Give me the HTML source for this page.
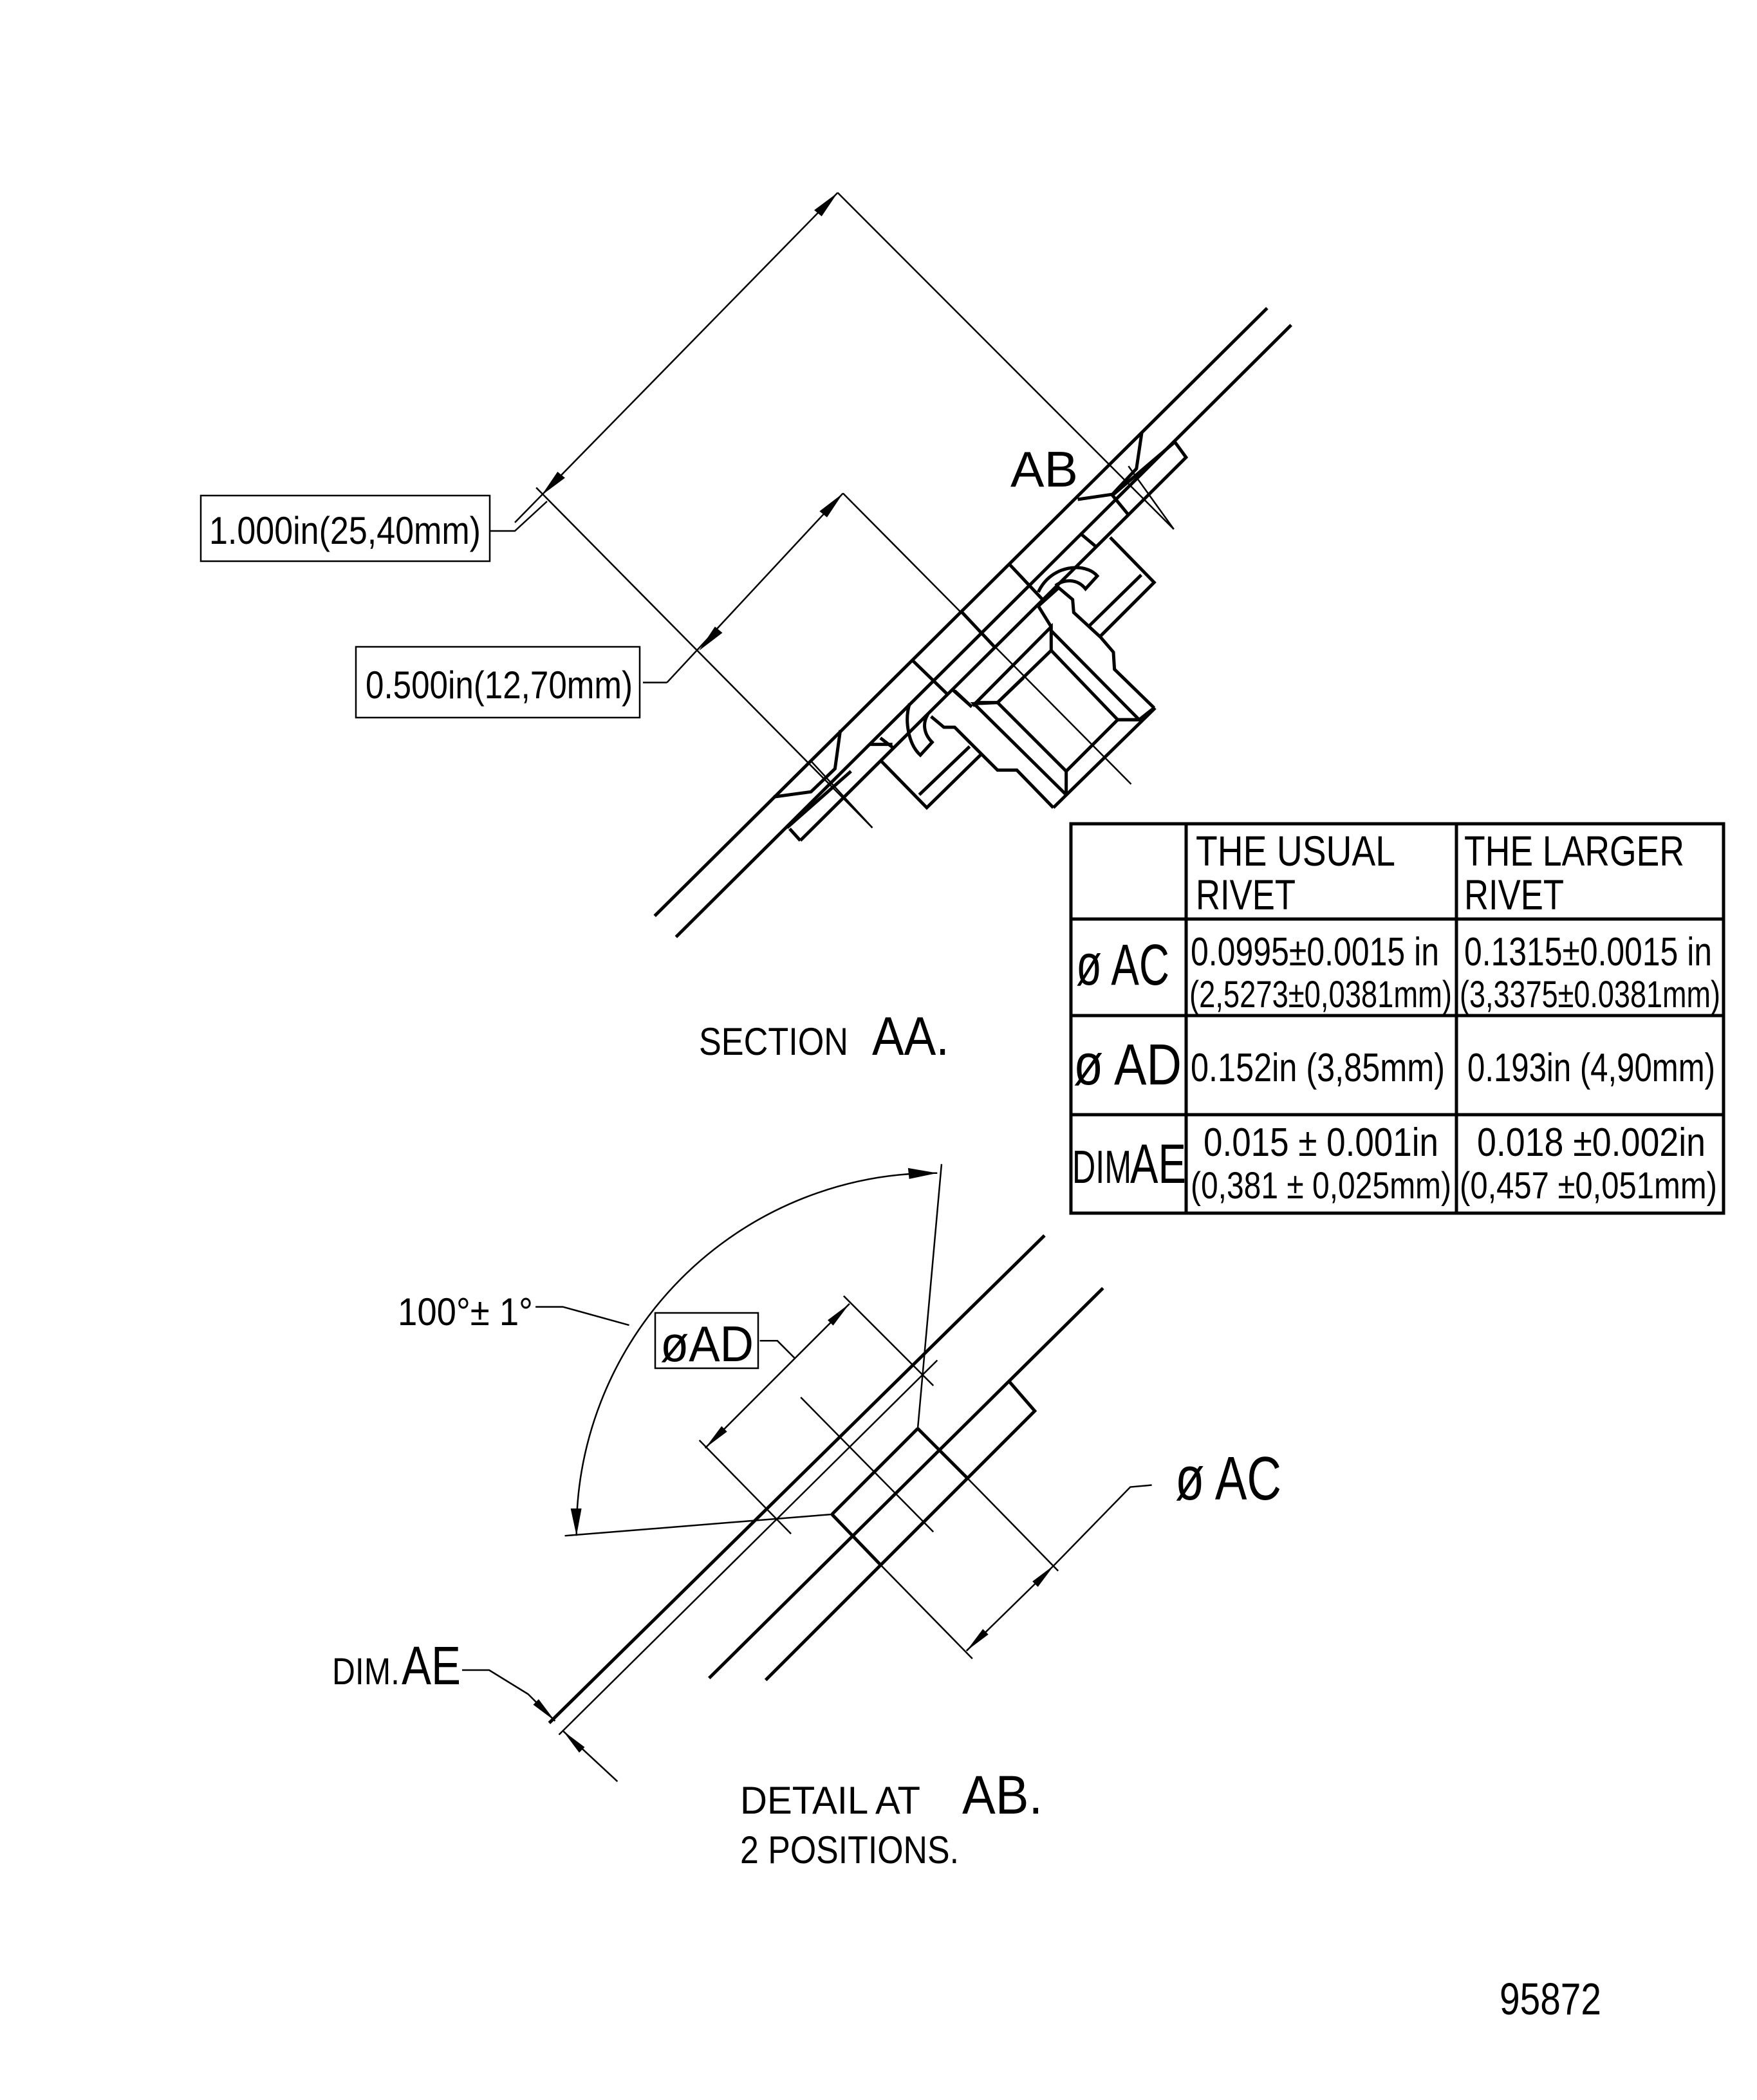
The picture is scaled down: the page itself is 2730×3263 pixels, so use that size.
<!DOCTYPE html>
<html><head><meta charset="utf-8"><style>
html,body{margin:0;padding:0;background:#fff;}
svg{display:block;}
text{font-family:"Liberation Sans Narrow","Liberation Sans",sans-serif;fill:#000;}
.t{stroke:#000;stroke-width:2.5;fill:none;vector-effect:non-scaling-stroke;}
.k{stroke:#000;stroke-width:5;fill:none;vector-effect:non-scaling-stroke;}
.a{fill:#000;stroke:none;}
</style></head><body>
<svg width="2730" height="3263" viewBox="0 0 2730 3263" xmlns="http://www.w3.org/2000/svg">
<!-- SECTION AA geometry in zoom1 coords -->
<g transform="translate(800,250) scale(0.829,0.797)">
  <line class="k" x1="262" y1="1472" x2="1410" y2="287"/>
  <line class="k" x1="302" y1="1513" x2="1455" y2="320"/>
  <line class="t" x1="0" y1="705" x2="605" y2="62"/>
  <line class="t" x1="605" y1="62" x2="1235" y2="718"/>
  <line class="t" x1="40" y1="637" x2="670" y2="1300"/>
  <polygon class="a" points="605,62 575,108 561,96"/>
  <polygon class="a" points="50,652 94,618 80,606"/>
  <line class="t" x1="285" y1="1017" x2="615" y2="648"/>
  <line class="t" x1="615" y1="648" x2="1155" y2="1215"/>
  <polygon class="a" points="615,648 585,695 571,683"/>
  <polygon class="a" points="345,955 389,920 375,908"/>
  <polyline class="t" points="240,1017 285,1017"/>
  <polyline class="k" points="1055,660 1120,650 1165,600 1175,530"/>
  <polygon class="k" points="1120,652 1237,548 1258,578 1150,690"/>
  <line class="t" x1="1150" y1="595" x2="1235" y2="718"/>
  <line class="k" x1="535" y1="1325" x2="1150" y2="690"/>
  <polyline class="k" points="515,1302 535,1325"/>
  <line class="k" x1="685" y1="1125" x2="710" y2="1145"/>
  <polyline class="k" points="485,1240 555,1230 600,1185 610,1110"/>
  <line class="t" x1="555" y1="1170" x2="670" y2="1300"/>
  <line class="k" x1="510" y1="1300" x2="630" y2="1190"/>
</g>
<!-- rivet region upper -->
<g transform="translate(1400,750) scale(0.3333)">
  <line class="k" x1="840" y1="240" x2="905" y2="295"/>
  <line class="k" x1="505" y1="380" x2="660" y2="545"/>
  <line class="k" x1="285" y1="605" x2="440" y2="770"/>
  <line class="k" x1="55" y1="830" x2="215" y2="985"/>
  <line class="k" x1="240" y1="965" x2="330" y2="1045"/>
  <polyline class="k" points="975,255 1180,465 930,715"/>
  <line class="k" x1="880" y1="665" x2="1120" y2="430"/>
  <path class="k" d="M640,510 C700,380 860,370 915,435 L860,495 C820,445 760,450 720,480"/>
  <polyline class="k" points="640,575 735,490 800,545 805,605 930,720 990,790 995,870 1180,1050"/>
  <polyline class="k" points="335,1040 700,672 700,782 450,1025 360,1025 335,1040"/>
  <line class="k" x1="700" y1="690" x2="1110" y2="1105"/>
  <line class="k" x1="700" y1="782" x2="1010" y2="1105"/>
  <polyline class="k" points="1010,1105 1110,1105 1180,1050"/>
  <line class="k" x1="640" y1="575" x2="700" y2="672"/>
</g>
<!-- rivet region lower -->
<g transform="translate(1350,1050) scale(0.3333)">
  <line class="k" x1="1335" y1="150" x2="860" y2="615"/>
  <polyline class="k" points="1260,205 1160,205 920,445 920,550"/>
  <polyline class="k" points="920,445 600,125 490,130 915,550"/>
  <line class="k" x1="600" y1="125" x2="720" y2="10"/>
  <polyline class="k" points="290,190 350,240 400,240 600,440 690,440 860,615"/>
  <polyline class="k" points="60,400 270,615 520,370"/>
  <line class="k" x1="235" y1="555" x2="470" y2="330"/>
  <line class="k" x1="0" y1="320" x2="110" y2="320"/>
  <path class="k" d="M190,130 C165,210 185,320 240,370 L295,310 C255,270 250,220 275,180"/>
  <line class="k" x1="400" y1="70" x2="480" y2="145"/>
</g>
<!-- label boxes -->
<rect class="t" x="312" y="770" width="449" height="102"/>
<text x="325" y="845" font-size="60" textLength="422" lengthAdjust="spacingAndGlyphs">1.000in(25,40mm)</text>
<polyline class="t" points="761,825 800,825 850,779"/>
<rect class="t" x="553" y="1005" width="441" height="110"/>
<text x="568" y="1085" font-size="60" textLength="415" lengthAdjust="spacingAndGlyphs">0.500in(12,70mm)</text>
<text x="1570" y="756" font-size="78" textLength="105" lengthAdjust="spacingAndGlyphs">AB</text>
<text x="1086" y="1639" font-size="60" textLength="232" lengthAdjust="spacingAndGlyphs">SECTION</text>
<text x="1355" y="1639" font-size="84" textLength="120" lengthAdjust="spacingAndGlyphs">AA.</text>

<!-- table -->
<g>
  <rect class="k" x="1664" y="1280" width="1014" height="605"/>
  <line class="k" x1="1843" y1="1280" x2="1843" y2="1885"/>
  <line class="k" x1="2263" y1="1280" x2="2263" y2="1885"/>
  <line class="k" x1="1664" y1="1428" x2="2678" y2="1428"/>
  <line class="k" x1="1664" y1="1578" x2="2678" y2="1578"/>
  <line class="k" x1="1664" y1="1732" x2="2678" y2="1732"/>
  <text x="1858" y="1345" font-size="66" textLength="310" lengthAdjust="spacingAndGlyphs">THE  USUAL</text>
  <text x="1858" y="1413" font-size="66" textLength="155" lengthAdjust="spacingAndGlyphs">RIVET</text>
  <text x="2275" y="1345" font-size="66" textLength="342" lengthAdjust="spacingAndGlyphs">THE  LARGER</text>
  <text x="2275" y="1413" font-size="66" textLength="155" lengthAdjust="spacingAndGlyphs">RIVET</text>
  <text x="1672" y="1530" font-size="90" textLength="145" lengthAdjust="spacingAndGlyphs">ø AC</text>
  <text x="1850" y="1500" font-size="62" textLength="386" lengthAdjust="spacingAndGlyphs">0.0995±0.0015 in</text>
  <text x="1848" y="1565" font-size="58" textLength="408" lengthAdjust="spacingAndGlyphs">(2,5273±0,0381mm)</text>
  <text x="2275" y="1500" font-size="62" textLength="385" lengthAdjust="spacingAndGlyphs">0.1315±0.0015 in</text>
  <text x="2268" y="1565" font-size="58" textLength="405" lengthAdjust="spacingAndGlyphs">(3,3375±0.0381mm)</text>
  <text x="1668" y="1685" font-size="90" textLength="168" lengthAdjust="spacingAndGlyphs">ø AD</text>
  <text x="1850" y="1680" font-size="62" textLength="395" lengthAdjust="spacingAndGlyphs">0.152in  (3,85mm)</text>
  <text x="2280" y="1680" font-size="62" textLength="385" lengthAdjust="spacingAndGlyphs">0.193in (4,90mm)</text>
  <text x="1666" y="1838" font-size="72" textLength="92" lengthAdjust="spacingAndGlyphs">DIM</text>
  <text x="1756" y="1838" font-size="86" textLength="87" lengthAdjust="spacingAndGlyphs">AE</text>
  <text x="1870" y="1796" font-size="62" textLength="365" lengthAdjust="spacingAndGlyphs">0.015 ± 0.001in</text>
  <text x="1850" y="1862" font-size="58" textLength="405" lengthAdjust="spacingAndGlyphs">(0,381 ± 0,025mm)</text>
  <text x="2295" y="1796" font-size="62" textLength="355" lengthAdjust="spacingAndGlyphs">0.018 ±0.002in</text>
  <text x="2268" y="1862" font-size="58" textLength="400" lengthAdjust="spacingAndGlyphs">(0,457 ±0,051mm)</text>
</g>

<!-- DETAIL AT AB geometry -->
<g transform="translate(820,1850) scale(0.606)">
  <path class="t" d="M125,885 A920,920 0 0 1 1050,-45"/>
  <polyline class="t" points="20,298 90,298 260,345"/>
  <line class="t" x1="95" y1="885" x2="780" y2="830"/>
  <line class="t" x1="1000" y1="610" x2="1061" y2="-68"/>
  <line class="k" x1="55" y1="1365" x2="1325" y2="115"/>
  <line class="t" x1="80" y1="1395" x2="1050" y2="435"/>
  <line class="k" x1="465" y1="1250" x2="1475" y2="250"/>
  <polyline class="k" points="1235,490 1300,565 610,1255"/>
  <line class="k" x1="780" y1="830" x2="1000" y2="610"/>
  <line class="k" x1="1000" y1="610" x2="1130" y2="740"/>
  <line class="t" x1="1130" y1="740" x2="1360" y2="975"/>
  <line class="k" x1="780" y1="830" x2="905" y2="960"/>
  <line class="t" x1="905" y1="960" x2="1140" y2="1200"/>
  <line class="t" x1="810" y1="270" x2="1040" y2="500"/>
  <line class="t" x1="440" y1="640" x2="675" y2="880"/>
  <line class="t" x1="700" y1="530" x2="1040" y2="875"/>
  <line class="t" x1="455" y1="660" x2="825" y2="290"/>
  <polyline class="t" points="595,385 640,385 685,430"/>
  <line class="t" x1="1125" y1="1180" x2="1350" y2="960"/>
  <polyline class="t" points="1350,960 1545,760 1600,755"/>
  <line class="t" x1="0" y1="1290" x2="70" y2="1360"/>
  <line class="t" x1="90" y1="1385" x2="230" y2="1515"/>
  <polygon class="a" points="825,290 783,346 769,332"/>
  <polygon class="a" points="455,660 511,618 497,604"/>
  <polygon class="a" points="1350,960 1308,1016 1294,1002"/>
  <polygon class="a" points="1125,1180 1181,1138 1167,1124"/>
  <polygon class="a" points="70,1360 28,1304 14,1318"/>
  <polygon class="a" points="90,1385 146,1427 132,1441"/>
  <polygon class="a" points="125,885 110,815 138,815"/>
  <polygon class="a" points="1050,-45 975,-58 978,-30"/>
</g>
<text x="618" y="2059" font-size="60" textLength="210" lengthAdjust="spacingAndGlyphs">100°± 1°</text>
<rect class="t" x="1018" y="2040" width="160" height="86"/>
<text x="1026" y="2115" font-size="78" textLength="145" lengthAdjust="spacingAndGlyphs">øAD</text>
<text x="1826" y="2330" font-size="96" textLength="165" lengthAdjust="spacingAndGlyphs">ø AC</text>
<text x="516" y="2617" font-size="58" textLength="105" lengthAdjust="spacingAndGlyphs">DIM.</text>
<text x="624" y="2617" font-size="84" textLength="92" lengthAdjust="spacingAndGlyphs">AE</text>
<polyline class="t" points="718,2595 760,2595 820,2632"/>
<text x="1150" y="2818" font-size="60" textLength="280" lengthAdjust="spacingAndGlyphs">DETAIL  AT</text>
<text x="1495" y="2818" font-size="84" textLength="125" lengthAdjust="spacingAndGlyphs">AB.</text>
<text x="1150" y="2895" font-size="60" textLength="340" lengthAdjust="spacingAndGlyphs">2 POSITIONS.</text>
<text x="2330" y="3130" font-size="70" textLength="158" lengthAdjust="spacingAndGlyphs">95872</text>
</svg>
</body></html>
